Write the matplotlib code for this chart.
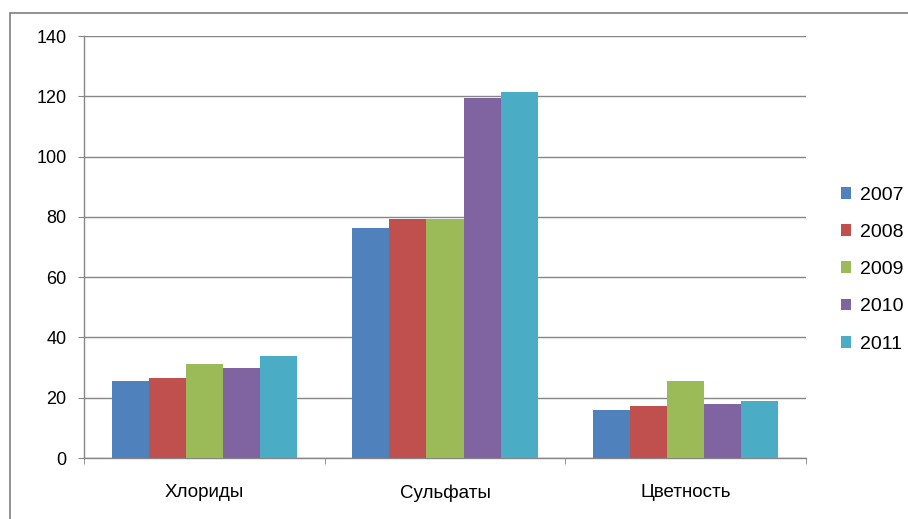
import numpy as np
import matplotlib
matplotlib.use("Agg")
import matplotlib.pyplot as plt
from matplotlib.patches import Rectangle, Patch

categories = ["Хлориды", "Сульфаты", "Цветность"]
years = ["2007", "2008", "2009", "2010", "2011"]
v2007 = [25.5, 76.3, 15.9]
v2008 = [26.5, 79.3, 17.3]
v2009 = [31.2, 79.3, 25.5]
v2010 = [29.9, 119.4, 17.9]
v2011 = [33.9, 121.4, 18.9]
series = [v2007, v2008, v2009, v2010, v2011]
colors = ["#4F81BD", "#C0504D", "#9BBB59", "#8064A2", "#4BACC6"]

GRID = "#868686"
BAR_W = 0.154

plt.rcParams['font.family'] = ['Liberation Sans', 'DejaVu Sans']

fig = plt.figure(figsize=(9.08, 5.19), dpi=100)
ax = fig.add_axes([0.0925, 0.1175, 0.7952, 0.8131])

x = np.arange(len(categories))
# bars of one group sit side by side, centred on the category
for i, vals in enumerate(series):
    off = (i - 2) * BAR_W
    ax.bar(x + off, vals, width=BAR_W, color=colors[i], zorder=3, linewidth=0)

ax.set_xlim(-0.5, 2.5)
ax.set_ylim(0, 140)
ax.set_yticks(np.arange(0, 141, 20))
ax.yaxis.grid(True, color=GRID, linewidth=1, zorder=0)

ax.set_xticks(x)
ax.set_xticklabels(categories)
ax.set_xticks([-0.5, 0.5, 1.5, 2.5], minor=True)
ax.tick_params(axis="x", which="major", length=0, pad=19, labelsize=13.5)
ax.tick_params(axis="x", which="minor", length=4.5, color=GRID, direction="out")
ax.tick_params(axis="y", length=4.5, color=GRID, pad=8, labelsize=13)

for s in ["top", "right"]:
    ax.spines[s].set_visible(False)
for s in ["left", "bottom"]:
    ax.spines[s].set_color(GRID)
    ax.spines[s].set_linewidth(1)

handles = [Patch(facecolor=c, edgecolor="none") for c in colors]
fig.legend(handles, years, loc="upper left", bbox_to_anchor=(0.915, 0.659),
           frameon=False, fontsize=14, handlelength=0.55, handleheight=0.55,
           handletextpad=0.45, labelspacing=1.04, borderpad=0)

# outer chart frame, clipped by the image edge
fig.patches.append(Rectangle((10 / 908, -0.2), 1.2, 1.2 - 13 / 519,
                             transform=fig.transFigure, fill=False,
                             edgecolor="#7f7f7f", linewidth=1.2, clip_on=False))

fig.savefig("out.png", dpi=100)
